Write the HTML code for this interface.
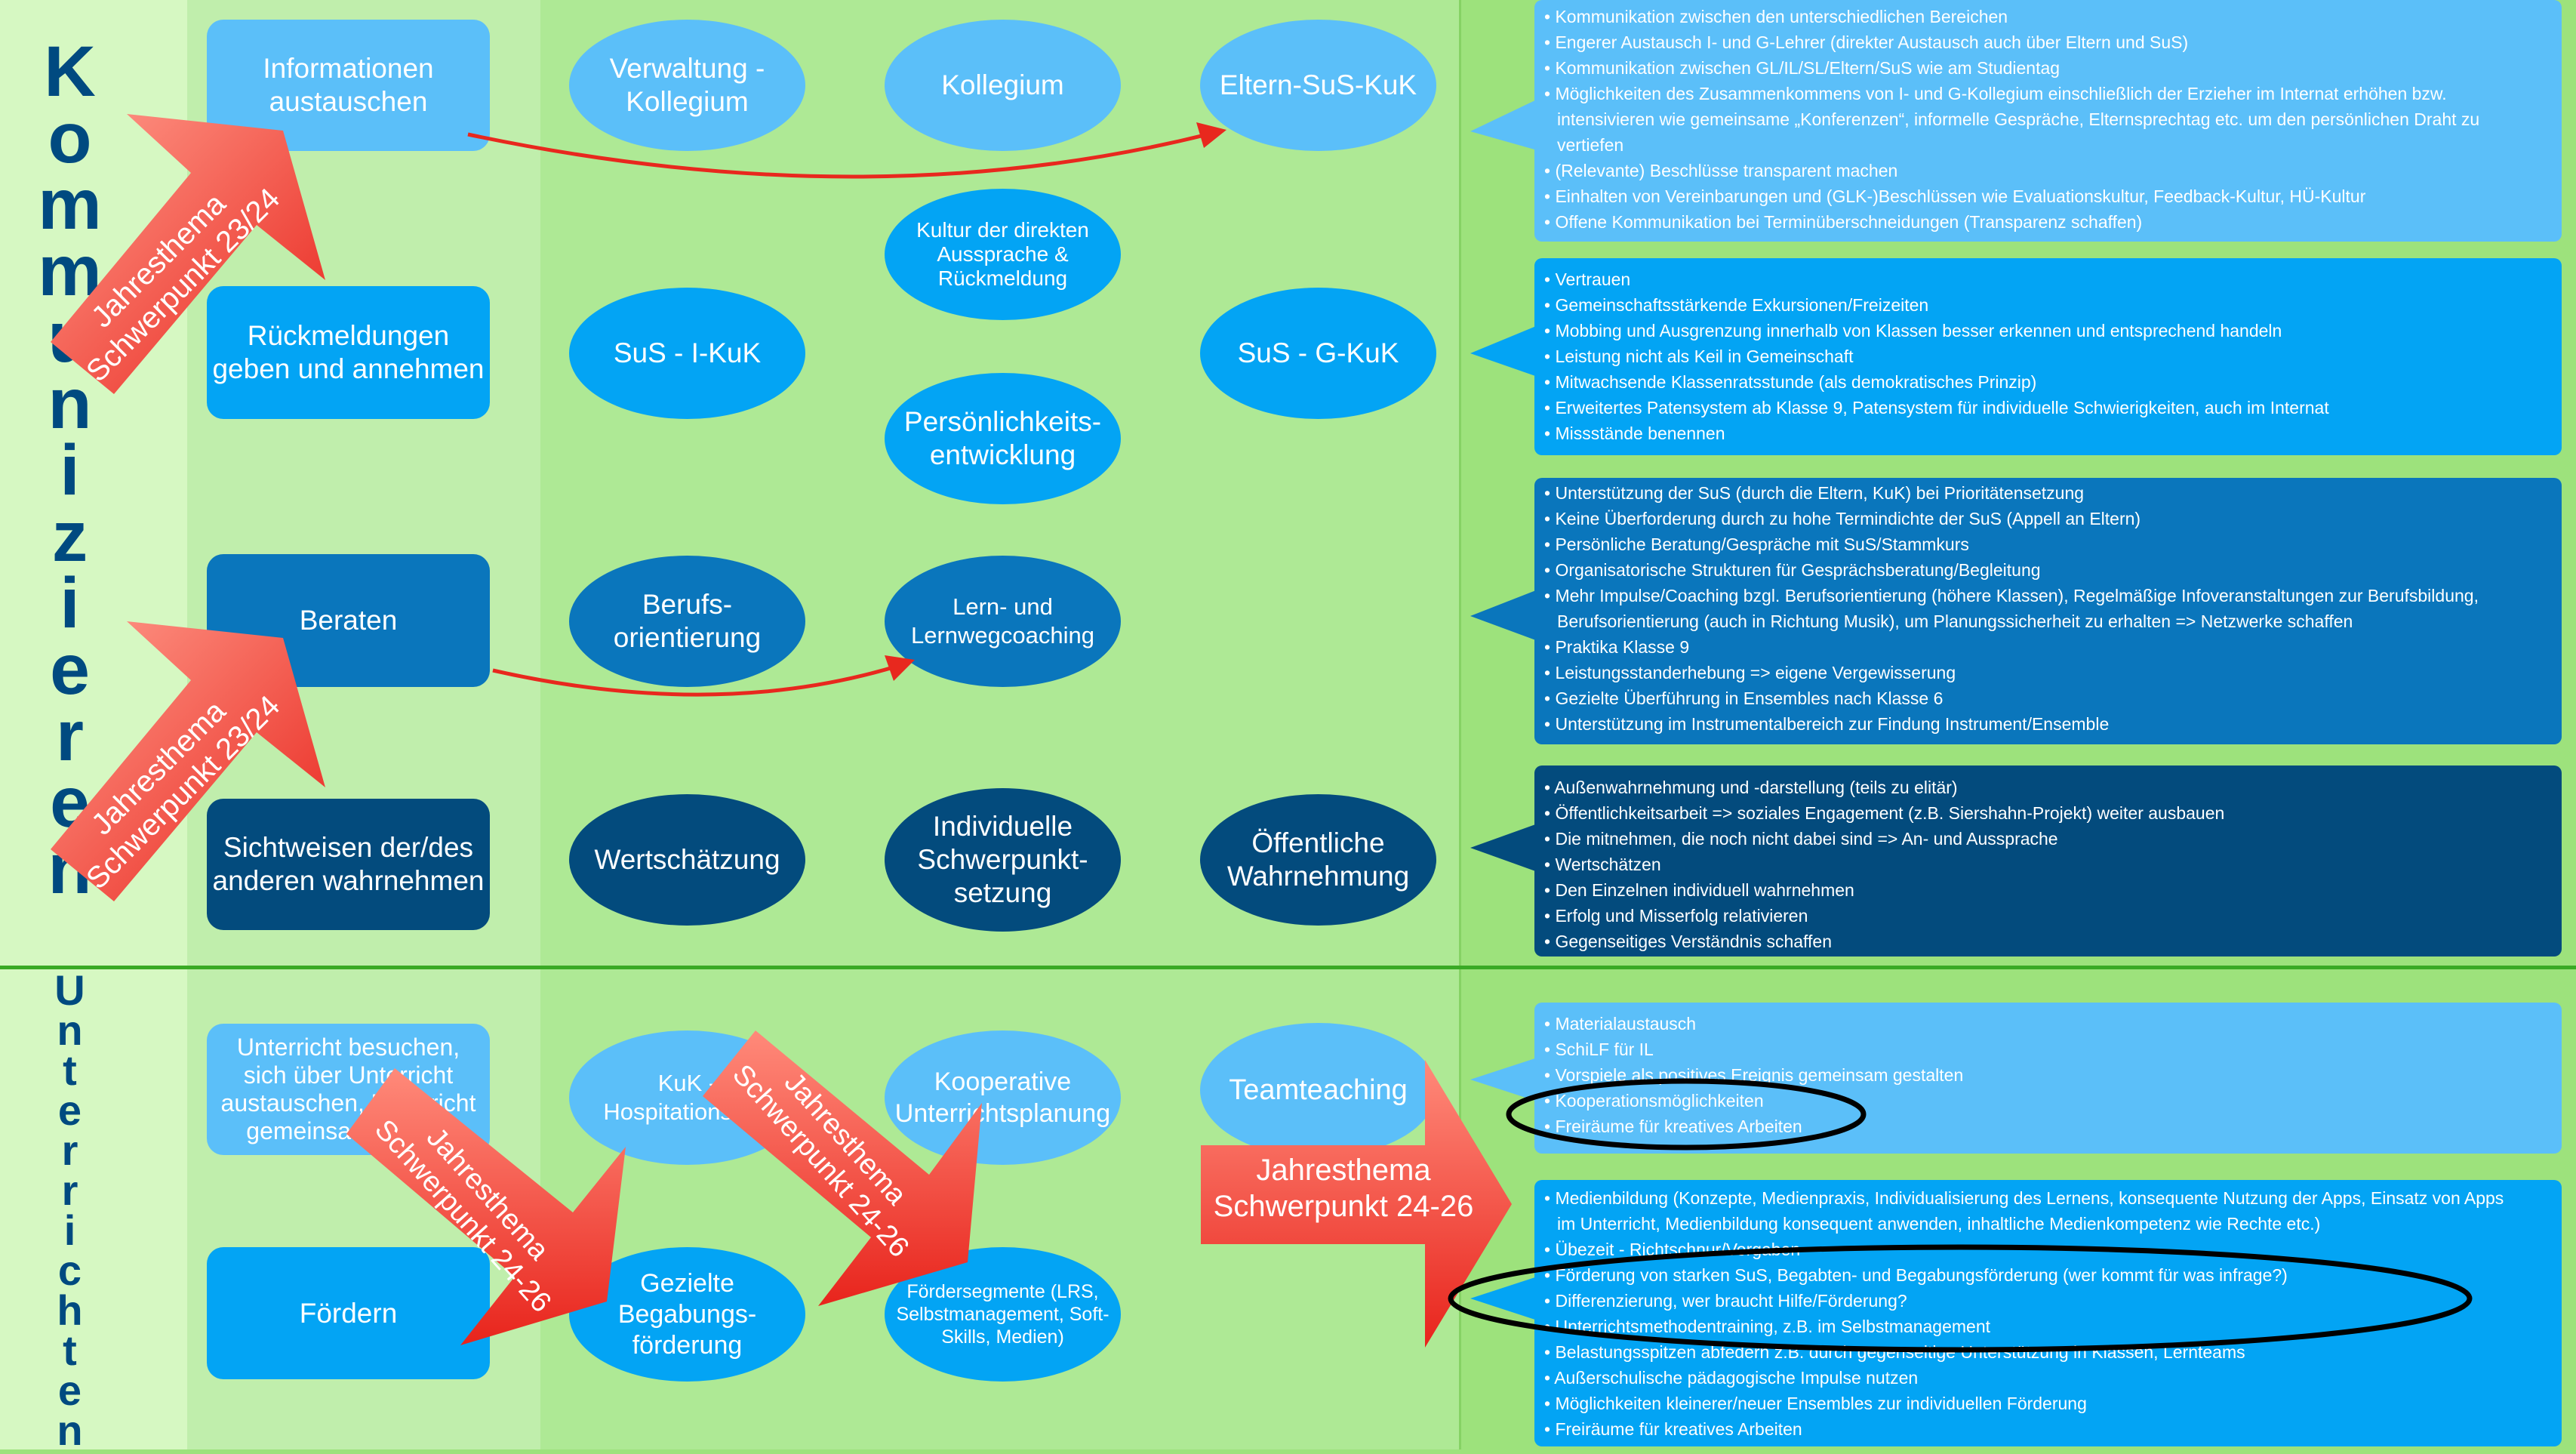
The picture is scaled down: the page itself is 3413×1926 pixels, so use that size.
<!DOCTYPE html>
<html><head><meta charset="utf-8">
<style>
*{margin:0;padding:0;box-sizing:border-box}
body{width:3413px;height:1920px;position:relative;overflow:hidden;font-family:"Liberation Sans",sans-serif;background:#9de27c}
.bg{position:absolute;top:0;height:1920px}
.b{position:absolute;display:flex;align-items:center;justify-content:center;text-align:center;color:#fff;font-size:37px;line-height:44px;border-radius:22px}
.e{border-radius:50%}
.l1{background:#5bbff9}.l2{background:#03a4f4}.l3{background:#0a76bc}.l4{background:#034b7d}
.n{font-family:"Liberation Sans Narrow","Liberation Sans",sans-serif}
.tb{position:absolute;left:2033px;width:1361px;border-radius:10px;color:#fff;font-size:23px;line-height:34px;padding-left:13px}
.tb div{white-space:nowrap}
.tb div::before{content:"• ";}
.tb .c::before{content:"";padding-left:17px}
.L{position:absolute;left:40px;width:105px;text-align:center;color:#004a80;font-weight:bold}
</style></head><body>
<div class="bg" style="left:0;width:248px;background:#d6f8c2"></div>
<div class="bg" style="left:248px;width:468px;background:#c0eeac"></div>
<div class="bg" style="left:716px;width:1217px;background:#aee995"></div>
<div class="bg" style="left:1933px;width:1480px;background:#9de27c;border-left:3px solid #86d264"></div>
<div style="position:absolute;left:0;top:1279px;width:3413px;height:5px;background:#3aaa25"></div>

<div style="position:absolute;left:0;top:0">
<div class="L" style="top:45px;font-size:95px;line-height:100px">K</div>
<div class="L" style="top:133px;font-size:95px;line-height:100px">o</div>
<div class="L" style="top:221px;font-size:95px;line-height:100px">m</div>
<div class="L" style="top:309px;font-size:95px;line-height:100px">m</div>
<div class="L" style="top:397px;font-size:95px;line-height:100px">u</div>
<div class="L" style="top:485px;font-size:95px;line-height:100px">n</div>
<div class="L" style="top:573px;font-size:95px;line-height:100px">i</div>
<div class="L" style="top:661px;font-size:95px;line-height:100px">z</div>
<div class="L" style="top:749px;font-size:95px;line-height:100px">i</div>
<div class="L" style="top:837px;font-size:95px;line-height:100px">e</div>
<div class="L" style="top:925px;font-size:95px;line-height:100px">r</div>
<div class="L" style="top:1013px;font-size:95px;line-height:100px">e</div>
<div class="L" style="top:1101px;font-size:95px;line-height:100px">n</div>
</div>
<div class="n" style="position:absolute;left:0;top:0;font-size:56px;line-height:60px">
<div class="L" style="top:1282px;font-size:56px">U</div>
<div class="L" style="top:1335px;font-size:56px">n</div>
<div class="L" style="top:1388px;font-size:56px">t</div>
<div class="L" style="top:1441px;font-size:56px">e</div>
<div class="L" style="top:1494px;font-size:56px">r</div>
<div class="L" style="top:1547px;font-size:56px">r</div>
<div class="L" style="top:1600px;font-size:56px">i</div>
<div class="L" style="top:1653px;font-size:56px">c</div>
<div class="L" style="top:1706px;font-size:56px">h</div>
<div class="L" style="top:1759px;font-size:56px">t</div>
<div class="L" style="top:1812px;font-size:56px">e</div>
<div class="L" style="top:1865px;font-size:56px">n</div>
</div>

<div class="b l1" style="left:274px;top:26px;width:375px;height:174px">Informationen<br>austauschen</div>
<div class="b l2" style="left:274px;top:379px;width:375px;height:176px">Rückmeldungen<br>geben und annehmen</div>
<div class="b l3" style="left:274px;top:734px;width:375px;height:176px">Beraten</div>
<div class="b l4" style="left:274px;top:1058px;width:375px;height:174px">Sichtweisen der/des<br>anderen wahrnehmen</div>
<div class="b l1 n" style="left:274px;top:1356px;width:375px;height:174px;font-size:32px;line-height:37px">Unterricht besuchen,<br>sich über Unterricht<br>austauschen, Unterricht<br>gemeinsam planen</div>
<div class="b l2 n" style="left:274px;top:1652px;width:375px;height:175px;font-size:37px">Fördern</div>

<div class="b e l1" style="left:754px;top:26px;width:313px;height:174px">Verwaltung -<br>Kollegium</div>
<div class="b e l1" style="left:1172px;top:26px;width:313px;height:174px">Kollegium</div>
<div class="b e l1" style="left:1590px;top:26px;width:313px;height:174px">Eltern-SuS-KuK</div>
<div class="b e l2" style="left:1172px;top:250px;width:313px;height:174px;font-size:28px;line-height:32px">Kultur der direkten<br>Aussprache &amp;<br>Rückmeldung</div>
<div class="b e l2" style="left:754px;top:381px;width:313px;height:174px">SuS - I-KuK</div>
<div class="b e l2" style="left:1590px;top:381px;width:313px;height:174px">SuS - G-KuK</div>
<div class="b e l2" style="left:1172px;top:494px;width:313px;height:174px">Persönlichkeits-<br>entwicklung</div>
<div class="b e l3" style="left:754px;top:736px;width:313px;height:174px">Berufs-<br>orientierung</div>
<div class="b e l3" style="left:1172px;top:736px;width:313px;height:174px;font-size:31px;line-height:38px">Lern- und<br>Lernwegcoaching</div>
<div class="b e l4" style="left:754px;top:1052px;width:313px;height:174px">Wertschätzung</div>
<div class="b e l4" style="left:1172px;top:1044px;width:313px;height:190px">Individuelle<br>Schwerpunkt-<br>setzung</div>
<div class="b e l4" style="left:1590px;top:1052px;width:313px;height:174px">Öffentliche<br>Wahrnehmung</div>
<div class="b e l1 n" style="left:754px;top:1365px;width:313px;height:178px;font-size:31px;line-height:38px">KuK -<br>Hospitationsring</div>
<div class="b e l1 n" style="left:1172px;top:1365px;width:313px;height:178px;font-size:34px;line-height:42px">Kooperative<br>Unterrichtsplanung</div>
<div class="b e l1 n" style="left:1590px;top:1355px;width:313px;height:178px;font-size:38px">Teamteaching</div>
<div class="b e l2 n" style="left:754px;top:1652px;width:313px;height:178px;font-size:34px;line-height:41px">Gezielte<br>Begabungs-<br>förderung</div>
<div class="b e l2 n" style="left:1172px;top:1652px;width:313px;height:178px;font-size:25px;line-height:30px">Fördersegmente (LRS,<br>Selbstmanagement, Soft-<br>Skills, Medien)</div>

<svg style="position:absolute;left:0;top:0" width="3413" height="1920">
<polygon points="2040,130 1948,174 2040,200" fill="#5bbff9"/>
<polygon points="2040,430 1948,468 2040,500" fill="#03a4f4"/>
<polygon points="2040,780 1948,816 2040,850" fill="#0a76bc"/>
<polygon points="2040,1090 1948,1123 2040,1156" fill="#034b7d"/>
<polygon points="2040,1400 1948,1430 2040,1460" fill="#5bbff9"/>
<polygon points="2040,1690 1948,1720 2040,1750" fill="#03a4f4"/>
</svg>
<div class="tb l1" style="top:0;height:320px;padding-top:5px">
<div>Kommunikation zwischen den unterschiedlichen Bereichen</div>
<div>Engerer Austausch I- und G-Lehrer (direkter Austausch auch über Eltern und SuS)</div>
<div>Kommunikation zwischen GL/IL/SL/Eltern/SuS wie am Studientag</div>
<div>Möglichkeiten des Zusammenkommens von I- und G-Kollegium einschließlich der Erzieher im Internat erhöhen bzw.</div>
<div class="c">intensivieren wie gemeinsame „Konferenzen“, informelle Gespräche, Elternsprechtag etc. um den persönlichen Draht zu</div>
<div class="c">vertiefen</div>
<div>(Relevante) Beschlüsse transparent machen</div>
<div>Einhalten von Vereinbarungen und (GLK-)Beschlüssen wie Evaluationskultur, Feedback-Kultur, HÜ-Kultur</div>
<div>Offene Kommunikation bei Terminüberschneidungen (Transparenz schaffen)</div>
</div>
<div class="tb l2" style="top:342px;height:261px;padding-top:11px">
<div>Vertrauen</div>
<div>Gemeinschaftsstärkende Exkursionen/Freizeiten</div>
<div>Mobbing und Ausgrenzung innerhalb von Klassen besser erkennen und entsprechend handeln</div>
<div>Leistung nicht als Keil in Gemeinschaft</div>
<div>Mitwachsende Klassenratsstunde (als demokratisches Prinzip)</div>
<div>Erweitertes Patensystem ab Klasse 9, Patensystem für individuelle Schwierigkeiten, auch im Internat</div>
<div>Missstände benennen</div>
</div>
<div class="tb l3" style="top:633px;height:353px;padding-top:3px">
<div>Unterstützung der SuS (durch die Eltern, KuK) bei Prioritätensetzung</div>
<div>Keine Überforderung durch zu hohe Termindichte der SuS (Appell an Eltern)</div>
<div>Persönliche Beratung/Gespräche mit SuS/Stammkurs</div>
<div>Organisatorische Strukturen für Gesprächsberatung/Begleitung</div>
<div>Mehr Impulse/Coaching bzgl. Berufsorientierung (höhere Klassen), Regelmäßige Infoveranstaltungen zur Berufsbildung,</div>
<div class="c">Berufsorientierung (auch in Richtung Musik), um Planungssicherheit zu erhalten =&gt; Netzwerke schaffen</div>
<div>Praktika Klasse 9</div>
<div>Leistungsstanderhebung =&gt; eigene Vergewisserung</div>
<div>Gezielte Überführung in Ensembles nach Klasse 6</div>
<div>Unterstützung im Instrumentalbereich zur Findung Instrument/Ensemble</div>
</div>
<div class="tb l4" style="top:1014px;height:253px;padding-top:12px">
<div>Außenwahrnehmung und -darstellung (teils zu elitär)</div>
<div>Öffentlichkeitsarbeit =&gt; soziales Engagement (z.B. Siershahn-Projekt) weiter ausbauen</div>
<div>Die mitnehmen, die noch nicht dabei sind =&gt; An- und Aussprache</div>
<div>Wertschätzen</div>
<div>Den Einzelnen individuell wahrnehmen</div>
<div>Erfolg und Misserfolg relativieren</div>
<div>Gegenseitiges Verständnis schaffen</div>
</div>
<div class="tb l1 n" style="top:1328px;height:200px;padding-top:11px">
<div>Materialaustausch</div>
<div>SchiLF für IL</div>
<div>Vorspiele als positives Ereignis gemeinsam gestalten</div>
<div>Kooperationsmöglichkeiten</div>
<div>Freiräume für kreatives Arbeiten</div>
</div>
<div class="tb l2 n" style="top:1563px;height:353px;padding-top:7px">
<div>Medienbildung (Konzepte, Medienpraxis, Individualisierung des Lernens, konsequente Nutzung der Apps, Einsatz von Apps</div>
<div class="c">im Unterricht, Medienbildung konsequent anwenden, inhaltliche Medienkompetenz wie Rechte etc.)</div>
<div>Übezeit - Richtschnur/Vorgaben</div>
<div>Förderung von starken SuS, Begabten- und Begabungsförderung (wer kommt für was infrage?)</div>
<div>Differenzierung, wer braucht Hilfe/Förderung?</div>
<div>Unterrichtsmethodentraining, z.B. im Selbstmanagement</div>
<div>Belastungsspitzen abfedern z.B. durch gegenseitige Unterstützung in Klassen, Lernteams</div>
<div>Außerschulische pädagogische Impulse nutzen</div>
<div>Möglichkeiten kleinerer/neuer Ensembles zur individuellen Förderung</div>
<div>Freiräume für kreatives Arbeiten</div>
</div>

<svg style="position:absolute;left:0;top:0" width="3413" height="1920">
<defs>
<linearGradient id="g1" x1="0" y1="0" x2="1" y2="1"><stop offset="0" stop-color="#ff9a8a"/><stop offset="1" stop-color="#e8241c"/></linearGradient>
<linearGradient id="g2" x1="0" y1="0" x2="0" y2="1"><stop offset="0" stop-color="#ff8a7a"/><stop offset="1" stop-color="#e8241c"/></linearGradient>
</defs>
<path d="M620,178 Q1150,290 1600,178" stroke="#e8281e" stroke-width="5" fill="none"/>
<polygon points="1625,172 1585,162 1595,196" fill="#e8281e"/>
<path d="M653,888 Q950,955 1190,882" stroke="#e8281e" stroke-width="5" fill="none"/>
<polygon points="1212,874 1172,868 1184,902" fill="#e8281e"/>

<polygon points="375,173 168,151 253,229 67,453 151,522 340,298 431,371" fill="url(#g1)"/>
<polygon points="375,845 168,823 253,901 67,1125 151,1194 340,970 431,1043" fill="url(#g1)"/>
<g fill="#fff" font-size="40" text-anchor="middle">
<text transform="translate(225,360) rotate(-45)"><tspan x="0" y="-8">Jahresthema</tspan><tspan x="0" y="38">Schwerpunkt 23/24</tspan></text>
<text transform="translate(225,1032) rotate(-45)"><tspan x="0" y="-8">Jahresthema</tspan><tspan x="0" y="38">Schwerpunkt 23/24</tspan></text>
</g>
<polygon points="523,1415 759,1606 829,1519 804,1724 610,1782 682,1691 459,1502" fill="url(#g2)"/>
<polygon points="1001,1365 1231,1556 1301,1461 1282,1672 1084,1730 1154,1639 931,1452" fill="url(#g2)"/>
<polygon points="1591,1517 1888,1517 1888,1404 2003,1595 1888,1785 1888,1648 1591,1648" fill="url(#g2)"/>
<g fill="#fff" font-size="38" text-anchor="middle" font-family="Liberation Sans Narrow, Liberation Sans, sans-serif">
<text transform="translate(631,1595) rotate(48)"><tspan x="0" y="-8">Jahresthema</tspan><tspan x="0" y="36">Schwerpunkt 24-26</tspan></text>
<text transform="translate(1105,1522) rotate(48)"><tspan x="0" y="-8">Jahresthema</tspan><tspan x="0" y="36">Schwerpunkt 24-26</tspan></text>
<text x="1780" y="1563" font-size="40">Jahresthema</text>
<text x="1780" y="1611" font-size="40">Schwerpunkt 24-26</text>
</g>
<ellipse cx="2234" cy="1476" rx="235" ry="44" fill="none" stroke="#000" stroke-width="7"/>
<ellipse cx="2597" cy="1720" rx="675" ry="68" fill="none" stroke="#000" stroke-width="7"/>
</svg>
</body></html>
